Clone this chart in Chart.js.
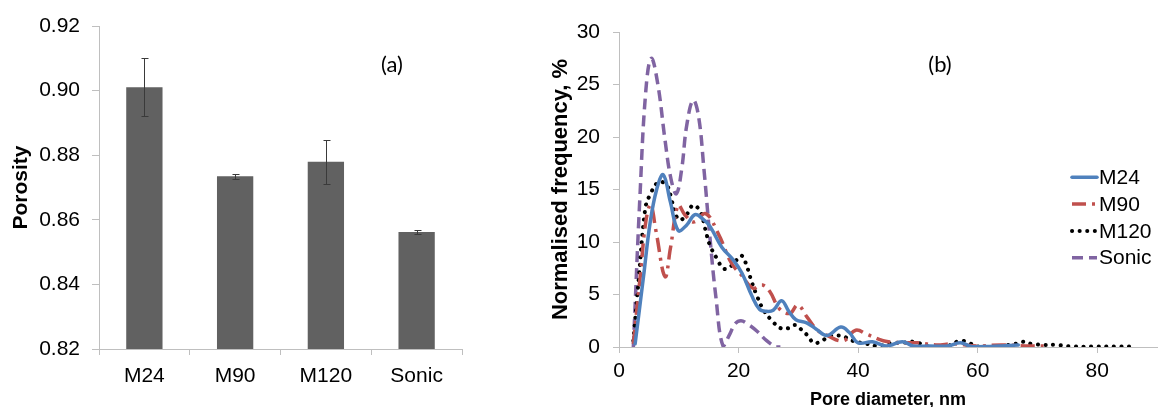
<!DOCTYPE html>
<html><head><meta charset="utf-8">
<script src="https://cdn.jsdelivr.net/npm/chart.js@4"></script>
<style>
html,body{margin:0;padding:0;background:#fff;width:1159px;height:407px;overflow:hidden}
#w1{position:absolute;left:0;top:0;width:480px;height:407px}
#w2{position:absolute;left:530px;top:0;width:629px;height:407px}
</style></head><body>
<div id="w1"><canvas id="c1"></canvas></div>
<div id="w2"><canvas id="c2"></canvas></div>
<script>
// ---- Panel (a) data ----
const barCategories = ['M24', 'M90', 'M120', 'Sonic'];
const porosity = [0.901, 0.8735, 0.878, 0.8562];
const porosityErr = [0.009, 0.0008, 0.0068, 0.0005];

// ---- Panel (b) data ----
const seriesNames = ['M24', 'M90', 'M120', 'Sonic'];
const m24X = [2.7, 4.1, 5.2, 6.3, 7.4, 8.6, 9.9, 11.3, 12.7, 14.0, 15.2, 17.2, 19.1, 20.6, 22.2, 23.5, 24.6, 25.8, 27.2, 28.4, 29.6, 31.4, 33.0, 34.8, 37.1, 38.5, 40.0, 42.4, 44.7, 47.4, 49.2, 52, 55, 57.1, 59, 62, 64, 66.8];
const m24Y = [0.3, 6.7, 11.8, 15.0, 16.4, 13.8, 11.1, 11.6, 12.6, 12.2, 11.5, 9.5, 8.3, 7.0, 4.9, 3.6, 3.4, 3.5, 4.4, 3.4, 2.6, 2.3, 1.7, 1.1, 1.9, 1.4, 0.4, 0.5, 0.1, 0.5, 0.1, 0.1, 0.1, 0.4, 0.05, 0.05, 0.1, 0.2];
const m90X = [2.4, 3.6, 4.5, 5.3, 6.2, 7.7, 8.6, 9.9, 11.0, 12.5, 14.5, 16.6, 18.8, 20.7, 22.4, 24.0, 25.2, 26.9, 28.6, 29.9, 31.4, 33.2, 34.8, 37.5, 39.6, 41.5, 44.2, 47, 50, 53, 56, 60, 64, 68, 72];
const m90Y = [0.3, 7.0, 12.0, 13.5, 11.0, 6.7, 9.4, 13.5, 12.6, 11.9, 12.7, 10.8, 8.0, 6.7, 5.6, 5.9, 5.3, 3.6, 3.2, 4.0, 2.9, 1.6, 1.1, 0.6, 1.6, 1.2, 0.6, 0.4, 0.4, 0.2, 0.3, 0.1, 0.2, 0.1, 0.1];
const m120X = [2.4, 3.3, 4.4, 5.2, 6.6, 8.0, 8.8, 9.4, 10.2, 11.3, 12.4, 13.6, 14.4, 15.2, 16.4, 17.4, 18.3, 19.7, 20.5, 21.2, 22.2, 23.2, 24.2, 25.6, 27.0, 28.4, 29.5, 30.6, 31.7, 32.5, 33.7, 35.1, 36.5, 37.6, 39.0, 41.5, 43.5, 45.7, 47.5, 49.3, 52, 54.9, 57.1, 58.5, 60, 63, 66.3, 67.4, 69, 71.2, 73, 76, 80, 83, 86.5];
const m120Y = [0.6, 6.5, 13.2, 14.5, 15.7, 15.4, 14.0, 12.7, 12.1, 12.6, 13.5, 12.9, 11.3, 9.7, 8.4, 7.5, 7.5, 8.3, 8.7, 8.0, 6.2, 4.7, 3.5, 2.5, 1.8, 1.8, 2.1, 1.6, 1.0, 0.4, 0.5, 1.0, 1.1, 1.0, 0.6, 0.3, 0.1, 0.4, 0.4, 0.5, 0.05, 0.1, 0.6, 0.4, 0.05, 0.05, 0.3, 0.5, 0.3, 0.2, 0.2, 0.05, 0.05, 0.05, 0.05];
const sonicX = [2.4, 3.5, 4.5, 5.4, 6.5, 7.7, 8.7, 9.6, 10.5, 11.3, 12.4, 13.3, 14.2, 15.2, 16.2, 17.4, 18.6, 19.4, 20.4, 21.5, 23.1, 24.7, 26.3, 27];
const sonicY = [0, 14.3, 24.5, 27.5, 25.0, 19.7, 16.0, 14.6, 17.0, 21.0, 23.5, 22.0, 17.0, 10.5, 4.8, 0.1, 1.3, 2.2, 2.5, 2.2, 1.5, 0.6, 0, 0];

const FONT = '"Liberation Sans", Arial, sans-serif';
const AXIS_GRAY = '#bfbfbf';
Chart.defaults.font.family = FONT;
Chart.defaults.color = '#000';

const pts = (xs, ys) => xs.map((x, i) => ({x: x, y: ys[i]}));

const panelLabel = {
  id: 'panelLabel',
  afterDraw(chart, args, o) {
    const ctx = chart.ctx;
    ctx.save();
    ctx.font = '22px Lato, "Open Sans", sans-serif';
    ctx.fillStyle = '#000';
    ctx.textAlign = 'center';
    ctx.textBaseline = 'middle';
    ctx.fillText(o.text, o.x, o.y);
    ctx.restore();
  }
};

const errorBars = {
  id: 'errorBars',
  afterDatasetsDraw(chart) {
    const {ctx, scales: {x, y}} = chart;
    ctx.save();
    ctx.strokeStyle = '#3a3a3a';
    ctx.lineWidth = 1;
    porosity.forEach((v, i) => {
      const px = Math.round(x.getPixelForValue(i)) + 0.5;
      const top = Math.round(y.getPixelForValue(v + porosityErr[i])) + 0.5;
      const bot = Math.round(y.getPixelForValue(v - porosityErr[i])) + 0.5;
      ctx.beginPath();
      ctx.moveTo(px, top); ctx.lineTo(px, bot);
      ctx.moveTo(px - 3, top); ctx.lineTo(px + 4, top);
      ctx.moveTo(px - 3, bot); ctx.lineTo(px + 4, bot);
      ctx.stroke();
    });
    ctx.restore();
  }
};

new Chart(document.getElementById('c1'), {
  type: 'bar',
  data: {
    labels: barCategories,
    datasets: [{
      data: porosity,
      backgroundColor: '#616161',
      borderWidth: 0,
      barPercentage: 0.4,
      categoryPercentage: 1.0
    }]
  },
  options: {
    responsive: true,
    maintainAspectRatio: false,
    devicePixelRatio: 1,
    animation: false,
    layout: {padding: {top: 26, right: 18, left: 0, bottom: 0}},
    plugins: {
      legend: {display: false},
      tooltip: {enabled: false},
      panelLabel: {text: '(a)', x: 392, y: 65}
    },
    scales: {
      x: {
        offset: true,
        grid: {display: true, drawOnChartArea: false, drawTicks: true, tickLength: 6, color: AXIS_GRAY, offset: true},
        border: {display: true, color: AXIS_GRAY},
        ticks: {font: {size: 21}, color: '#000', padding: 9},
        afterFit(s) { s.height = 58; }
      },
      y: {
        min: 0.82, max: 0.92,
        grid: {display: true, drawOnChartArea: false, drawTicks: true, tickLength: 7, color: AXIS_GRAY},
        border: {display: true, color: AXIS_GRAY},
        ticks: {stepSize: 0.02, font: {size: 21}, color: '#000', padding: 12, callback: v => Number(v).toFixed(2)},
        title: {display: true, text: 'Porosity', font: {size: 21, weight: 'bold'}, color: '#000', padding: {top: 9, bottom: 0}},
        afterFit(s) { s.width = 99; }
      }
    }
  },
  plugins: [errorBars, panelLabel]
});

const sideLegend = {
  id: 'sideLegend',
  afterDraw(chart, args, o) {
    const ctx = chart.ctx;
    chart.data.datasets.forEach((ds, i) => {
      const y = o.top + i * o.spacing;
      ctx.save();
      ctx.strokeStyle = ds.borderColor;
      ctx.lineWidth = ds.borderWidth;
      ctx.setLineDash(ds.borderDash || []);
      ctx.lineCap = ds.borderCapStyle || 'butt';
      ctx.beginPath();
      ctx.moveTo(o.x, y);
      ctx.lineTo(o.x + o.len, y);
      ctx.stroke();
      ctx.setLineDash([]);
      ctx.fillStyle = '#000';
      ctx.font = '21px ' + FONT;
      ctx.textBaseline = 'middle';
      ctx.textAlign = 'left';
      ctx.fillText(ds.label, o.x + o.len + 2, y + 1);
      ctx.restore();
    });
  }
};

const lineStyle = {pointRadius: 0, fill: false, tension: 0.4, borderWidth: 3.5};

new Chart(document.getElementById('c2'), {
  type: 'line',
  data: {
    datasets: [
      Object.assign({label: seriesNames[0], data: pts(m24X, m24Y), borderColor: '#4F81BD', borderCapStyle: 'round'}, lineStyle),
      Object.assign({label: seriesNames[1], data: pts(m90X, m90Y), borderColor: '#C0504D', borderDash: [14, 6, 3, 6], borderCapStyle: 'butt'}, lineStyle),
      Object.assign({label: seriesNames[2], data: pts(m120X, m120Y), borderColor: '#000000', borderDash: [0.1, 7.5], borderCapStyle: 'round'}, lineStyle, {borderWidth: 4}),
      Object.assign({label: seriesNames[3], data: pts(sonicX, sonicY), borderColor: '#8064A2', borderDash: [11, 6], borderCapStyle: 'butt'}, lineStyle)
    ]
  },
  options: {
    responsive: true,
    maintainAspectRatio: false,
    devicePixelRatio: 1,
    animation: false,
    layout: {padding: {top: 32, right: 2, left: 0, bottom: 0}},
    plugins: {
      legend: {display: false},
      tooltip: {enabled: false},
      panelLabel: {text: '(b)', x: 410, y: 65},
      sideLegend: {x: 542, len: 25, top: 177.3, spacing: 26.8}
    },
    scales: {
      x: {
        type: 'linear', min: 0, max: 90,
        grid: {display: true, drawOnChartArea: false, drawTicks: true, tickLength: 6, color: AXIS_GRAY},
        border: {display: true, color: AXIS_GRAY},
        ticks: {stepSize: 20, includeBounds: false, font: {size: 21}, color: '#000', padding: 6},
        title: {display: true, text: 'Pore diameter, nm', font: {size: 18, weight: 'bold', lineHeight: 0.8}, color: '#000', padding: 0},
        afterFit(s) { s.height = 60; }
      },
      y: {
        min: 0, max: 30,
        grid: {display: true, drawOnChartArea: false, drawTicks: true, tickLength: 6, color: AXIS_GRAY},
        border: {display: true, color: AXIS_GRAY},
        ticks: {stepSize: 5, font: {size: 21}, color: '#000', padding: 13},
        title: {display: true, text: 'Normalised frequency, %', font: {size: 22, weight: 'bold'}, color: '#000', padding: {top: 18, bottom: 0}},
        afterFit(s) { s.width = 89; }
      }
    }
  },
  plugins: [sideLegend, panelLabel]
});
</script>
</body></html>
